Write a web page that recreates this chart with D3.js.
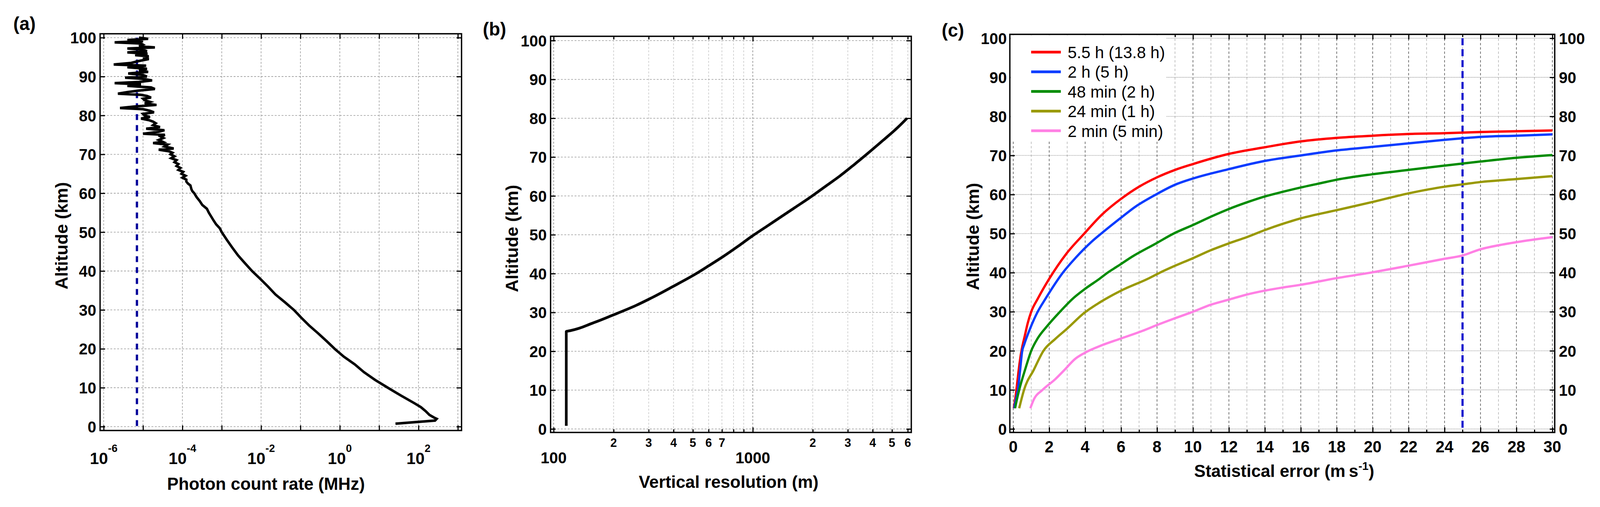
<!DOCTYPE html>
<html>
<head>
<meta charset="utf-8">
<script src="https://cdn.jsdelivr.net/npm/d3@7"></script>
<style>
  html, body { margin: 0; padding: 0; background: #fff; overflow: hidden; width: 100%; height: 100%; }
  svg { display: block; width: 100vw; height: 100vh; }
  svg text { font-family: "Liberation Sans", Arial, Helvetica, sans-serif; fill: #000; }
</style>
</head>
<body>
<script>
// ---------- data ----------
// (a) photon count rate profile: [altitude km, rate MHz]
var photonA = [
  [100.0,7.9e-6],[99.7,1.35e-5],[99.4,4.0e-6],[99.1,1.0e-5],[98.8,1.9e-6],[98.5,8.9e-6],
  [98.2,1.0e-5],[97.8,7.9e-6],[97.5,2.0e-5],[97.2,4.0e-6],[96.9,1.0e-5],[96.5,1.26e-5],
  [96.2,4.0e-6],[95.9,1.3e-5],[95.5,6.3e-6],[95.2,1.4e-5],[94.9,1.0e-5],[94.5,1.4e-5],
  [94.0,7.9e-6],[93.5,5.0e-6],[93.1,1.8e-6],[92.8,1.2e-5],[92.4,4.0e-6],[92.0,1.26e-5],
  [91.6,7.9e-6],[91.2,1.35e-5],[90.8,4.2e-6],[90.4,1.0e-5],[90.0,1.26e-5],[89.7,3.5e-6],
  [89.4,1.0e-5],[89.0,1.7e-5],[88.6,7.9e-6],[88.3,1.9e-6],[88.0,8.9e-6],[87.6,4.0e-6],
  [87.2,1.6e-5],[86.8,2.0e-5],[86.4,7.9e-6],[86.0,4.0e-6],[85.6,2.3e-6],[85.3,8.9e-6],
  [85.0,1.26e-5],[84.6,1.6e-5],[84.3,1.0e-5],[83.9,1.1e-5],[83.5,1.5e-5],[83.1,1.1e-5],
  [82.7,2.2e-5],[82.3,6.3e-6],[81.9,2.6e-6],[81.6,1.0e-5],[81.2,1.5e-5],[80.8,1.9e-5],
  [80.4,1.0e-5],[80.0,1.1e-5],[79.6,1.5e-5],[79.2,8.9e-6],[78.8,1.4e-5],[78.4,1.8e-5],
  [78.0,2.1e-5],[77.5,1.8e-5],[77.0,2.7e-5],[76.6,1.2e-5],[76.2,3.5e-5],[75.8,2.5e-5],
  [75.3,1.0e-5],[75.0,3.6e-5],[74.6,2.8e-5],[74.2,3.3e-5],[73.7,2.5e-5],[73.2,3.2e-5],
  [72.9,1.8e-5],[72.5,4.2e-5],[72.0,3.5e-5],[71.5,6.0e-5],[71.2,2.5e-5],[70.8,4.5e-5],
  [70.4,5.6e-5],[70.0,5.0e-5],[69.5,6.3e-5],[69.0,5.2e-5],[68.5,7.1e-5],[68.0,6.3e-5],
  [67.5,7.9e-5],[67.0,7.1e-5],[66.5,8.9e-5],[66.0,7.9e-5],[65.5,1.05e-4],[65.0,9.5e-5],
  [64.5,1.2e-4],[64.0,1.0e-4],[63.5,1.26e-4],[63.0,1.26e-4],[62.5,1.38e-4],[62.0,1.6e-4],
  [61.0,1.7e-4],[60.5,1.8e-4],[60.0,2.0e-4],[59.0,2.3e-4],[58.0,2.75e-4],[57.0,3.2e-4],
  [56.0,4.2e-4],[55.0,4.7e-4],[54.0,5.4e-4],[53.0,6.2e-4],[52.0,7.2e-4],[51.0,8.9e-4],
  [50.0,1.0e-3],[48.0,1.35e-3],[46.0,1.86e-3],[44.0,2.6e-3],[42.0,3.9e-3],[40.0,5.9e-3],
  [38.0,9.5e-3],[36.0,1.5e-2],[34.0,2.3e-2],[32.0,4.0e-2],[30.0,6.8e-2],[28.0,0.105],
  [26.0,0.166],[24.0,0.28],[22.0,0.46],[20.0,0.74],[18.0,1.26],[16.0,2.4],[14.0,4.1],
  [12.0,7.9],[10.0,16.6],[8.0,35.5],[6.0,79],[5.0,115],[4.0,151],[3.0,190],[2.3,251],
  [2.0,290],[1.55,263],[1.35,150],[1.0,54],[0.75,26]
];
var noiseLevelA = 7e-6;            // blue dashed line (MHz)
var decadesA = [1e-6,1e-5,1e-4,1e-3,1e-2,1e-1,1,10,100,1000];
var labelExpA = [-6,-4,-2,0,2];

// (b) vertical resolution: [altitude km, resolution m]
var resolutionB = [
  [0.8,115.7],[25.1,115.7],[25.3,121],[27.2,156],[29.3,198],[31.8,259],[33.6,306],
  [36.8,401],[39.7,508],[42.0,600],[44.4,710],[47.0,841],[49.7,995],[52.2,1178],
  [54.7,1393],[57.2,1649],[59.7,1950],[62.4,2307],[65.1,2731],[68.1,3235],[71.2,3828],
  [74.4,4530],[77.7,5360],[80.0,5950]
];
var majorB = [100, 1000];
var minorB = [200,300,400,500,600,700,800,900,2000,3000,4000,5000,6000];
var minorLabelB = [[200,"2"],[300,"3"],[400,"4"],[500,"5"],[600,"6"],[700,"7"],
                   [2000,"2"],[3000,"3"],[4000,"4"],[5000,"5"],[6000,"6"]];

// (c) statistical error: [error m/s, altitude km]
var err55h = [[0.03,5.3],[0.12,8],[0.2,11],[0.3,15],[0.42,19],[0.5,21],[0.65,24],[0.8,27],
  [1.0,30],[1.36,33.3],[2.01,38.5],[2.93,44.7],[3.95,50],[4.92,54.8],[6.0,58.9],[7.0,62.0],
  [8.0,64.4],[9.0,66.3],[10.0,67.8],[12.0,70.4],[14.0,72.1],[16.0,73.6],[18.0,74.5],
  [20.0,75.06],[22.0,75.5],[24.0,75.7],[26.0,76.0],[28.0,76.2],[30.0,76.4]];
var err2h = [[0.05,5.3],[0.15,7.5],[0.26,10],[0.38,15],[0.5,20],[0.6,21.5],[0.93,25.6],
  [1.36,30],[1.79,33.3],[2.76,40],[3.47,43.8],[4.38,48.0],[4.92,50.1],[5.98,54.0],
  [6.77,56.8],[7.9,59.9],[9.0,62.5],[10.0,64.1],[12.0,66.5],[14.0,68.6],[16.0,70.0],
  [18.0,71.3],[20.0,72.2],[22.0,73.1],[24.0,74.0],[25.0,74.4],[26.0,74.75],[28.0,75.06],
  [30.0,75.4]];
var err48m = [[0.1,5.3],[0.2,7.5],[0.33,10],[0.66,15.2],[1.0,20],[1.36,23.2],[1.9,26.4],
  [2.6,30],[3.3,33.3],[3.95,35.7],[4.82,38.5],[5.25,40],[5.79,41.6],[6.65,44.2],[7.95,47.5],
  [8.92,50],[10.0,52.2],[11.08,54.5],[12.0,56.3],[13.0,58.0],[14.0,59.5],[15.0,60.7],
  [16.0,61.8],[17.0,62.8],[18.0,63.8],[20.0,65.2],[22.0,66.3],[24.0,67.4],[26.0,68.45],
  [28.0,69.4],[30.0,70.1]];
var err24m = [[0.33,5.3],[0.45,7.5],[0.6,10],[1.15,15.2],[1.68,20],[2.33,23],[2.98,25.6],
  [3.95,29.7],[4.82,32.4],[6.0,35.4],[7.52,38.5],[8.16,40],[8.92,41.6],[10.0,43.7],
  [10.97,45.7],[12.0,47.5],[13.0,49.1],[14.0,50.9],[15.0,52.5],[16.0,53.9],[18.0,56.0],
  [20.0,58.1],[22.0,60.3],[24.0,62.0],[25.0,62.6],[26.0,63.2],[28.0,63.95],[30.0,64.7]];
var err2m = [[0.95,5.3],[1.14,7.5],[1.63,10],[2.33,12.7],[2.87,15.2],[3.41,17.8],
  [3.95,19.4],[4.92,21.4],[5.9,23],[7.19,25.1],[8.0,26.6],[8.92,28.2],[10.0,30],
  [11.0,31.8],[12.0,33.1],[13.0,34.4],[14.0,35.4],[15.0,36.2],[16.0,36.9],[18.0,38.6],
  [20.0,40.1],[22.0,41.8],[24.0,43.55],[25.0,44.4],[26.0,46.0],[27.0,47.0],[28.0,47.8],
  [30.0,49.1]];
var seriesC = [err55h, err2h, err48m, err24m, err2m];
var namesC = ["5.5 h (13.8 h)", "2 h (5 h)", "48 min (2 h)", "24 min (1 h)", "2 min (5 min)"];
var colorsC = ["#ff0000", "#0a3cff", "#008c00", "#999900", "#ff80e4"];
var thresholdC = 25;

var altTicks = [0,10,20,30,40,50,60,70,80,90,100];
var errTicks = d3.range(0, 31, 1);
var errLabels = d3.range(0, 31, 2);

// ---------- layout ----------
var W = 4205, H = 1299;
var PA = {x0: 263, x1: 1213, y0: 86.5, y1: 1103};
var PB = {x0: 1447, x1: 2395, y0: 93, y1: 1108};
var PC = {x0: 2654, x1: 4086, y0: 88, y1: 1108};

// drawn in a fixed 4205x1299 coordinate box, stretched to whatever the window is
var svg = d3.select("body").append("svg")
    .attr("viewBox", "0 0 " + W + " " + H)
    .attr("preserveAspectRatio", "none");

var xA = d3.scaleLog().domain([8.1e-7, 1240]).range([PA.x0, PA.x1]);
var yA = d3.scaleLinear().domain([-1, 101]).range([PA.y1, PA.y0]);
var xB = d3.scaleLog().domain([96.5, 6250]).range([PB.x0, PB.x1]);
var yB = d3.scaleLinear().domain([-0.9, 101.1]).range([PB.y1, PB.y0]);
var xC = d3.scaleLinear().domain([-0.19, 30.13]).range([PC.x0, PC.x1]);
var yC = d3.scaleLinear().domain([-0.9, 101]).range([PC.y1, PC.y0]);

// ---------- helpers ----------
function vGrid(P, x, vals, color, dash) {
  svg.append("g").selectAll("line").data(vals).join("line")
    .attr("x1", d => x(d)).attr("x2", d => x(d))
    .attr("y1", P.y0).attr("y2", P.y1)
    .attr("stroke", color).attr("stroke-width", 1.6).attr("stroke-dasharray", dash);
}
function hGrid(P, y, vals, color, dash) {
  svg.append("g").selectAll("line").data(vals).join("line")
    .attr("y1", d => y(d)).attr("y2", d => y(d))
    .attr("x1", P.x0).attr("x2", P.x1)
    .attr("stroke", color).attr("stroke-width", 1.6).attr("stroke-dasharray", dash);
}
function inTicks(P, x, y, xv, yv, size) {
  var parts = [];
  if (xv) {
    parts.push([d3.axisBottom(x), "translate(0," + P.y1 + ")", xv]);
    parts.push([d3.axisTop(x), "translate(0," + P.y0 + ")", xv]);
  }
  if (yv) {
    parts.push([d3.axisLeft(y), "translate(" + P.x0 + ",0)", yv]);
    parts.push([d3.axisRight(y), "translate(" + P.x1 + ",0)", yv]);
  }
  parts.forEach(function(p) {
    var g = svg.append("g").attr("transform", p[1])
      .call(p[0].tickValues(p[2]).tickSize(-size).tickFormat(""));
    g.select(".domain").remove();
    g.selectAll(".tick line").attr("stroke", "#000").attr("stroke-width", 3);
  });
}
function frame(P) {
  svg.append("rect").attr("x", P.x0).attr("y", P.y0)
    .attr("width", P.x1 - P.x0).attr("height", P.y1 - P.y0)
    .attr("fill", "none").attr("stroke", "#000").attr("stroke-width", 3.5);
}
function yLabels(y, xPos, anchor) {
  svg.append("g").selectAll("text").data(altTicks).join("text")
    .attr("x", xPos).attr("y", d => y(d)).attr("dy", "0.36em")
    .attr("text-anchor", anchor).attr("font-size", 41).attr("font-weight", "bold")
    .text(d => d);
}
function yTitle(xPos, yPos) {
  svg.append("text").attr("transform", "translate(" + xPos + "," + yPos + ") rotate(-90)")
    .attr("text-anchor", "middle").attr("font-size", 45).attr("font-weight", "bold")
    .text("Altitude (km)");
}
function panelTag(txt, xPos, yPos) {
  svg.append("text").attr("x", xPos).attr("y", yPos)
    .attr("font-size", 48).attr("font-weight", "bold").text(txt);
}

// ---------- panel (a) ----------
vGrid(PA, xA, decadesA, "#9a9a9a", "5,4");
hGrid(PA, yA, altTicks, "#9a9a9a", "5,4");
inTicks(PA, xA, yA, decadesA, altTicks, 13);

svg.append("line")
  .attr("x1", xA(noiseLevelA)).attr("x2", xA(noiseLevelA))
  .attr("y1", yA(100)).attr("y2", yA(0))
  .attr("stroke", "#000099").attr("stroke-width", 6).attr("stroke-dasharray", "15,13");

svg.append("path").datum(photonA)
  .attr("d", d3.line().x(d => xA(d[1])).y(d => yA(d[0])))
  .attr("fill", "none").attr("stroke", "#000").attr("stroke-width", 6.5);

frame(PA);
yLabels(yA, 253, "end");
var xlA = svg.append("g").selectAll("text").data(labelExpA).join("text")
  .attr("x", d => xA(Math.pow(10, d))).attr("y", 1189)
  .attr("text-anchor", "middle").attr("font-weight", "bold");
xlA.append("tspan").attr("font-size", 43).text("10");
xlA.append("tspan").attr("font-size", 28).attr("dy", -31).text(d => d);
svg.append("text").attr("x", 699).attr("y", 1255).attr("text-anchor", "middle")
  .attr("font-size", 45).attr("font-weight", "bold").text("Photon count rate (MHz)");
yTitle(178, 604);
panelTag("(a)", 35, 77);

// ---------- panel (b) ----------
vGrid(PB, xB, minorB, "#c8c8c8", "5,4");
vGrid(PB, xB, majorB, "#8a8a8a", "5,4");
hGrid(PB, yB, altTicks, "#9a9a9a", "5,4");
inTicks(PB, xB, yB, majorB, altTicks, 13);
inTicks(PB, xB, yB, minorB, null, 8);

svg.append("path").datum(resolutionB)
  .attr("d", d3.line().x(d => xB(d[1])).y(d => yB(d[0])).curve(d3.curveMonotoneY))
  .attr("fill", "none").attr("stroke", "#000").attr("stroke-width", 7);

frame(PB);
yLabels(yB, 1437, "end");
svg.append("g").selectAll("text").data(minorLabelB).join("text")
  .attr("x", d => xB(d[0])).attr("y", 1145).attr("text-anchor", "middle")
  .attr("font-size", 31).attr("font-weight", "bold").text(d => d[1]);
svg.append("g").selectAll("text").data(majorB).join("text")
  .attr("x", d => xB(d)).attr("y", 1187).attr("text-anchor", "middle")
  .attr("font-size", 41).attr("font-weight", "bold").text(d => d);
svg.append("text").attr("x", 1915).attr("y", 1250).attr("text-anchor", "middle")
  .attr("font-size", 45).attr("font-weight", "bold").text("Vertical resolution (m)");
yTitle(1361, 611);
panelTag("(b)", 1269, 91);

// ---------- panel (c) ----------
vGrid(PC, xC, errTicks.filter(d => d % 2 === 1), "#b4b4b4", "6,5");
vGrid(PC, xC, errLabels, "#555555", "6,5");
hGrid(PC, yC, altTicks, "#8c8c8c", "2,2");
inTicks(PC, xC, yC, errLabels, altTicks, 13);
inTicks(PC, xC, yC, errTicks.filter(d => d % 2 === 1), null, 7);

// legend background hides the grid
svg.append("rect").attr("x", PC.x0 + 2).attr("y", PC.y0 + 2)
  .attr("width", 3063 - PC.x0).attr("height", 357 - PC.y0).attr("fill", "#fff");

svg.append("line")
  .attr("x1", xC(thresholdC)).attr("x2", xC(thresholdC))
  .attr("y1", yC(100)).attr("y2", yC(0))
  .attr("stroke", "#0000cc").attr("stroke-width", 5.5).attr("stroke-dasharray", "18,10");

var lineC = d3.line().x(d => xC(d[0])).y(d => yC(d[1])).curve(d3.curveMonotoneX);
svg.append("g").selectAll("path").data(seriesC).join("path")
  .attr("d", lineC).attr("fill", "none")
  .attr("stroke", (d, i) => colorsC[i]).attr("stroke-width", 6);

frame(PC);
yLabels(yC, 2646, "end");
yLabels(yC, 4097, "start");
svg.append("g").selectAll("text").data(errLabels).join("text")
  .attr("x", d => xC(d)).attr("y", 1159).attr("text-anchor", "middle")
  .attr("font-size", 42).attr("font-weight", "bold").text(d => d);
var xtC = svg.append("text").attr("x", 3375).attr("y", 1222).attr("text-anchor", "middle")
  .attr("font-size", 45).attr("font-weight", "bold");
xtC.append("tspan").text("Statistical error (m\u2009s");
xtC.append("tspan").attr("font-size", 30).attr("dy", -18).text("-1");
xtC.append("tspan").attr("dy", 18).text(")");
yTitle(2573, 606);
panelTag("(c)", 2475, 94);

var leg = svg.append("g").selectAll("g").data(namesC).join("g")
  .attr("transform", (d, i) => "translate(0," + (133.5 + i * 50.4) + ")");
leg.append("line").attr("x1", 2710).attr("x2", 2788)
  .attr("stroke", (d, i) => colorsC[i]).attr("stroke-width", 7);
leg.append("text").attr("x", 2806).attr("dy", "0.36em")
  .attr("font-size", 43).text(d => d);
</script>
</body>
</html>
